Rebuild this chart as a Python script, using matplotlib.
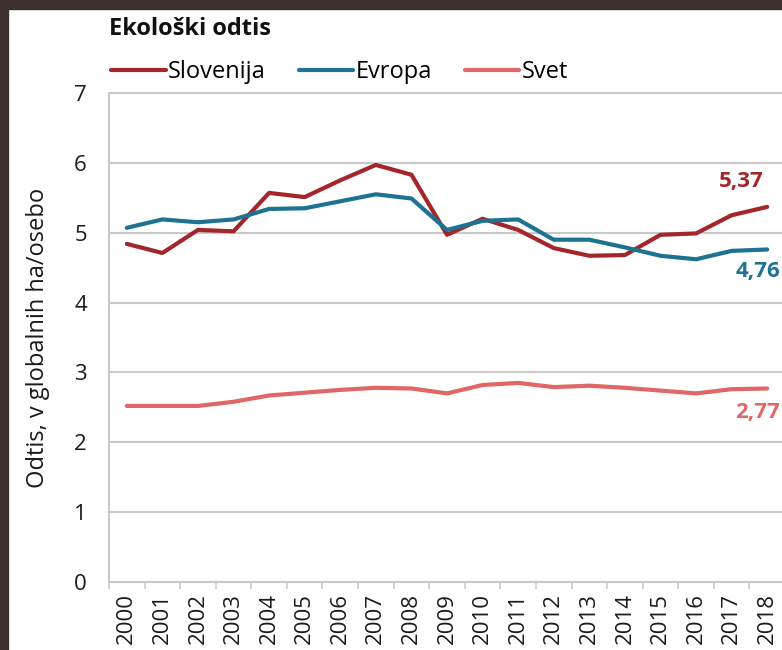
import numpy as np
import matplotlib
matplotlib.use("Agg")
import matplotlib.pyplot as plt
from matplotlib.patches import Rectangle

plt.rcParams['font.family'] = ['Open Sans', 'DejaVu Sans']

years = [str(y) for y in range(2000, 2019)]
slovenija = [4.84, 4.71, 5.04, 5.02, 5.57, 5.51, 5.75, 5.97, 5.83, 4.97,
             5.20, 5.04, 4.78, 4.67, 4.68, 4.97, 4.99, 5.25, 5.37]
evropa = [5.07, 5.19, 5.15, 5.19, 5.34, 5.35, 5.45, 5.55, 5.49, 5.04,
          5.17, 5.19, 4.90, 4.90, 4.79, 4.67, 4.62, 4.74, 4.76]
svet = [2.52, 2.52, 2.52, 2.58, 2.67, 2.71, 2.75, 2.78, 2.77, 2.70,
        2.82, 2.85, 2.79, 2.81, 2.78, 2.74, 2.70, 2.76, 2.77]

c_slo = '#a3262b'
c_evr = '#1d7391'
c_svet = '#e06767'
grid_c = '#c9c9c9'

fig = plt.figure(figsize=(7.82, 6.50), dpi=100)
ax = fig.add_axes([109/782, 68/650, 676/782, 489/650])

x = np.arange(len(years))
ax.plot(x, slovenija, color=c_slo, lw=3, label='Slovenija', solid_capstyle='round')
ax.plot(x, evropa, color=c_evr, lw=3, label='Evropa', solid_capstyle='round')
ax.plot(x, svet, color=c_svet, lw=3, label='Svet', solid_capstyle='round')

ax.set_xlim(-0.5, len(years) - 0.5)
ax.set_ylim(0, 7)
ax.set_yticks(range(0, 8))
ax.yaxis.grid(True, color=grid_c, lw=1.5)
ax.set_axisbelow(True)
ax.tick_params(axis='y', length=0, labelsize=16, pad=16, colors='#1a1a1a')

ax.set_xticks(x)
ax.set_xticklabels(years, rotation=90, fontsize=16, color='#1a1a1a')
ax.set_xticks(np.arange(-0.5, len(years)), minor=True)
ax.tick_params(axis='x', which='major', length=0, pad=8)
ax.tick_params(axis='x', which='minor', length=5, color=grid_c, width=1.2)

for side in ['left', 'bottom', 'top']:
    ax.spines[side].set_color(grid_c)
    ax.spines[side].set_linewidth(1.5)
ax.spines['right'].set_visible(False)

ax.set_ylabel('Odtis, v globalnih ha/osebo', fontsize=17, labelpad=17, color='#1a1a1a')

# value labels on the last year
ax.text(x[-1] - 1.35, slovenija[-1] + 0.36, f"{slovenija[-1]:.2f}".replace('.', ','),
        color=c_slo, fontsize=16, fontweight='bold', ha='left', va='center')
ax.text(x[-1] - 0.9, evropa[-1] - 0.32, f"{evropa[-1]:.2f}".replace('.', ','),
        color=c_evr, fontsize=16, fontweight='bold', ha='left', va='center')
ax.text(x[-1] - 0.9, svet[-1] - 0.34, f"{svet[-1]:.2f}".replace('.', ','),
        color=c_svet, fontsize=16, fontweight='bold', ha='left', va='center')

fig.text(109/782, 1 - 29/650, 'Ekološki odtis', fontsize=17, fontweight='bold',
         ha='left', va='center', color='#111111')
fig.legend(loc='center left', bbox_to_anchor=(90/782, 1 - 72/650), ncol=3,
           frameon=False, fontsize=17, handlelength=2.3, handletextpad=0.1,
           columnspacing=1.4)

# dark frame around the panel
fig.add_artist(Rectangle((0, 0), 8/782, 1, transform=fig.transFigure,
                         color='#3e302a', zorder=10))
fig.add_artist(Rectangle((0, 1 - 9/650), 1, 9/650, transform=fig.transFigure,
                         color='#3e302a', zorder=10))

fig.savefig('out.png', dpi=100)
